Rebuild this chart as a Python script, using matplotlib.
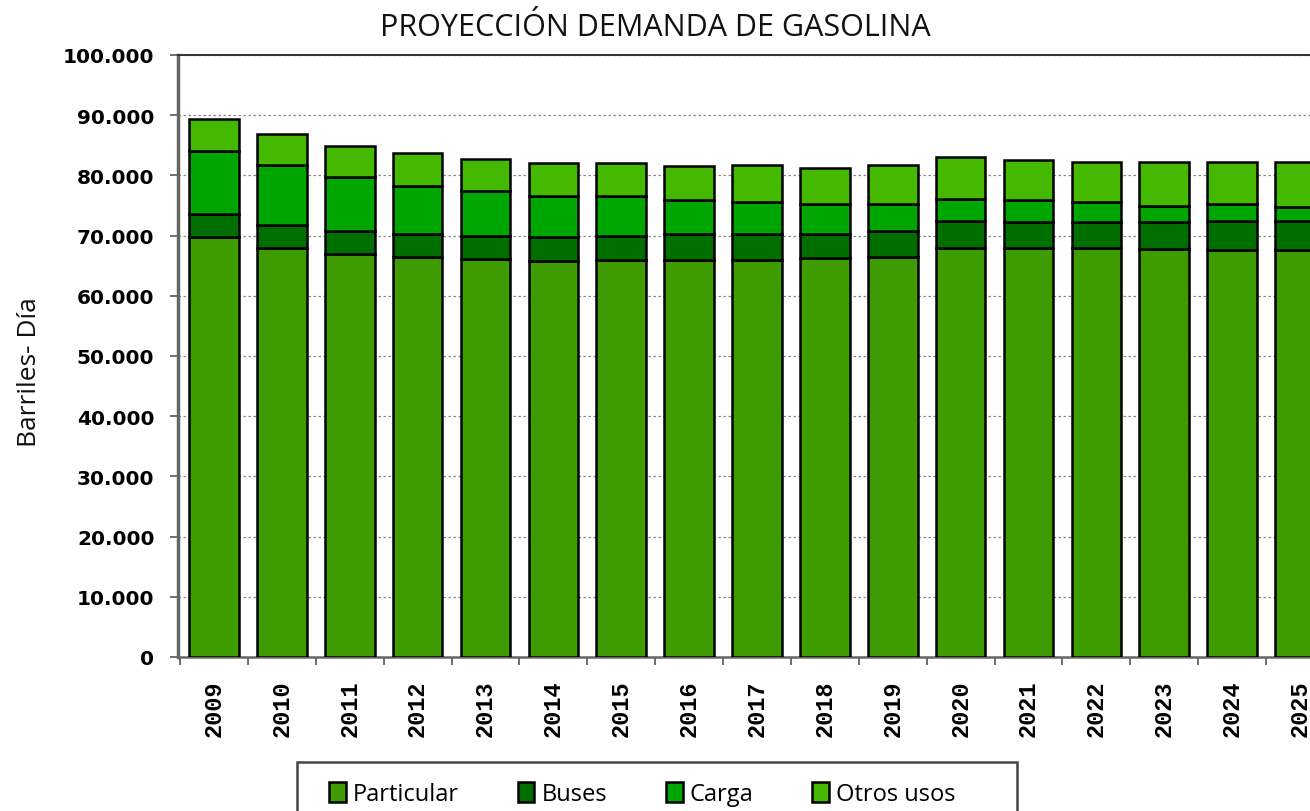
import matplotlib
matplotlib.use("Agg")
import matplotlib.pyplot as plt
from matplotlib.ticker import FuncFormatter, FixedLocator, NullFormatter
from matplotlib.patches import Rectangle
import numpy as np

years = ["2009", "2010", "2011", "2012", "2013", "2014", "2015", "2016", "2017",
         "2018", "2019", "2020", "2021", "2022", "2023", "2024", "2025"]
particular = [69800, 68000, 66900, 66400, 66100, 65800, 66000, 66000, 66000,
              66300, 66500, 68000, 68000, 68000, 67700, 67600, 67600]
buses = [3800, 3800, 3900, 3900, 3900, 4000, 3900, 4300, 4300,
         4000, 4300, 4500, 4200, 4200, 4500, 4800, 4900]
carga = [10500, 10000, 8900, 8000, 7400, 6800, 6700, 5600, 5200,
         4900, 4400, 3600, 3700, 3400, 2800, 2800, 2200]
otros = [5200, 5100, 5200, 5400, 5300, 5500, 5500, 5700, 6200,
         6100, 6500, 6900, 6700, 6700, 7300, 7100, 7600]

series = [("Particular", particular, "#3f9c00"),
          ("Buses", buses, "#006f00"),
          ("Carga", carga, "#00a600"),
          ("Otros usos", otros, "#45b800")]

W, H = 1310, 812
fig = plt.figure(figsize=(W / 100, H / 100), dpi=100)
ax_left = 178 / W
ax_bottom = 1 - 658 / H
ax_height = (658 - 56) / H
ax_width = (1336 - 178) / W
ax = fig.add_axes([ax_left, ax_bottom, ax_width, ax_height])

x = np.arange(len(years))
bottom = np.zeros(len(years))
handles = []
for name, vals, col in series:
    b = ax.bar(x, vals, width=0.73, bottom=bottom, color=col, edgecolor="black",
               linewidth=1.8, label=name, zorder=3)
    handles.append(b)
    bottom += np.array(vals)

ax.set_xlim(-0.53, len(years) - 0.47)
ax.set_ylim(0, 100000)
ax.set_yticks(np.arange(0, 100001, 10000))
ax.yaxis.set_major_formatter(FuncFormatter(
    lambda v, p: "0" if v == 0 else f"{int(v):,}".replace(",", ".")))
ax.yaxis.grid(True, linestyle=(0, (2, 2)), color="#888888", linewidth=0.9, zorder=0)
ax.set_axisbelow(True)

ax.set_xticks(x)
ax.set_xticklabels(years, rotation=90, fontsize=17, fontweight="bold",
                   family="Liberation Mono")
ax.xaxis.set_minor_locator(FixedLocator(np.arange(-0.5, len(years), 1.0)))
ax.xaxis.set_minor_formatter(NullFormatter())
for lab in ax.get_yticklabels():
    lab.set_fontsize(14.5)
    lab.set_fontweight("semibold")
ax.tick_params(axis="y", length=6, width=1.2, color="#555555", pad=11)
ax.tick_params(axis="x", which="major", length=0, pad=16)
ax.tick_params(axis="x", which="minor", length=6, width=1.2, color="#555555")

ax.spines["right"].set_visible(False)
ax.spines["left"].set_color("#666666")
ax.spines["left"].set_linewidth(2.5)
ax.spines["bottom"].set_color("#666666")
ax.spines["bottom"].set_linewidth(1.8)
ax.spines["top"].set_color("#333333")
ax.spines["top"].set_linewidth(1.4)

fig.text(655 / W, 1 - 28 / H, "PROYECCIÓN DEMANDA DE GASOLINA", ha="center",
         va="center", fontsize=22, family="Open Sans", color="#111111")
fig.text(30 / W, 1 - 372 / H, "Barriles- Día", rotation=90, ha="center",
         va="center", fontsize=19, family="Open Sans", color="#111111")

# legend frame (extends below the cropped figure edge)
fig.patches.append(Rectangle((297 / W, -0.05), (1017 - 297) / W, 0.05 + (812 - 763) / H,
                             transform=fig.transFigure, facecolor="white",
                             edgecolor="#444444", linewidth=1.8, zorder=1))
leg = fig.legend(handles=handles, labels=[s[0] for s in series], ncol=4,
                 loc="center left", bbox_to_anchor=(329 / W, 1 - 795 / H),
                 frameon=False,
                 prop={"family": "Open Sans", "size": 17},
                 handlelength=0.7, handleheight=0.9, columnspacing=2.5,
                 handletextpad=0.3, borderpad=0.0, borderaxespad=0)
leg.set_zorder(2)

fig.savefig("out.png", dpi=100)
